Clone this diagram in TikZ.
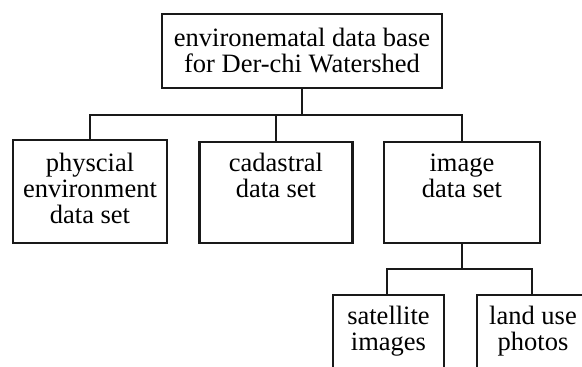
\documentclass[tikz,border=0pt]{standalone}
\usepackage{fontspec}
\setmainfont{Liberation Serif}
\begin{document}
\begin{tikzpicture}[x=1pt,y=-1pt,
  box/.style={draw=black!90, line width=2.5pt, inner sep=0pt, rectangle},
  link/.style={draw=black!90, line width=2.5pt},
  txt/.style={align=center, inner sep=0pt, anchor=base, font=\fontsize{26.5}{26}\selectfont}]
\useasboundingbox (0,0) rectangle (582,367);
\clip (0,0) rectangle (582,367);
% boxes
\node[box, minimum width=280pt, minimum height=74pt] (top) at (302,51) {};
\node[box, minimum width=154pt, minimum height=103pt] (b1) at (90,191.5) {};
\node[box, minimum width=153pt, minimum height=101pt] (b2) at (276,192.5) {};
\node[box, minimum width=156pt, minimum height=101pt] (b3) at (462,192.5) {};
\node[box, minimum width=111pt, minimum height=100pt] (s1) at (388.5,345) {};
\node[box, minimum width=112pt, minimum height=100pt] (s2) at (533,345) {};
% texts (anchored at the baseline of the last line)
\node[txt] (t0) at (302,72) {environematal data base\\for Der-chi Watershed};
\node[txt] (t1) at (90,223) {physcial\\environment\\data set};
\node[txt] (t2) at (276,197) {cadastral\\data set};
\node[txt] (t3) at (462,197) {image\\data set};
\node[txt] (t4) at (388.5,350) {satellite\\images};
\node[txt] (t5) at (533,350) {land use\\photos};
% connectors
\coordinate (j1) at (302,115);
\coordinate (j2) at (462,269);
\draw[link] (top.south) -- (j1);
\draw[link] (b1.north) |- (j1) -| (b3.north);
\draw[link] (b2.north) -- (b2.north |- j1);
\draw[link] (b3.south) -- (j2);
\draw[link] (s1.north -| 387,0) |- (j2) -| (s2.north -| 532,0);
\end{tikzpicture}
\end{document}
